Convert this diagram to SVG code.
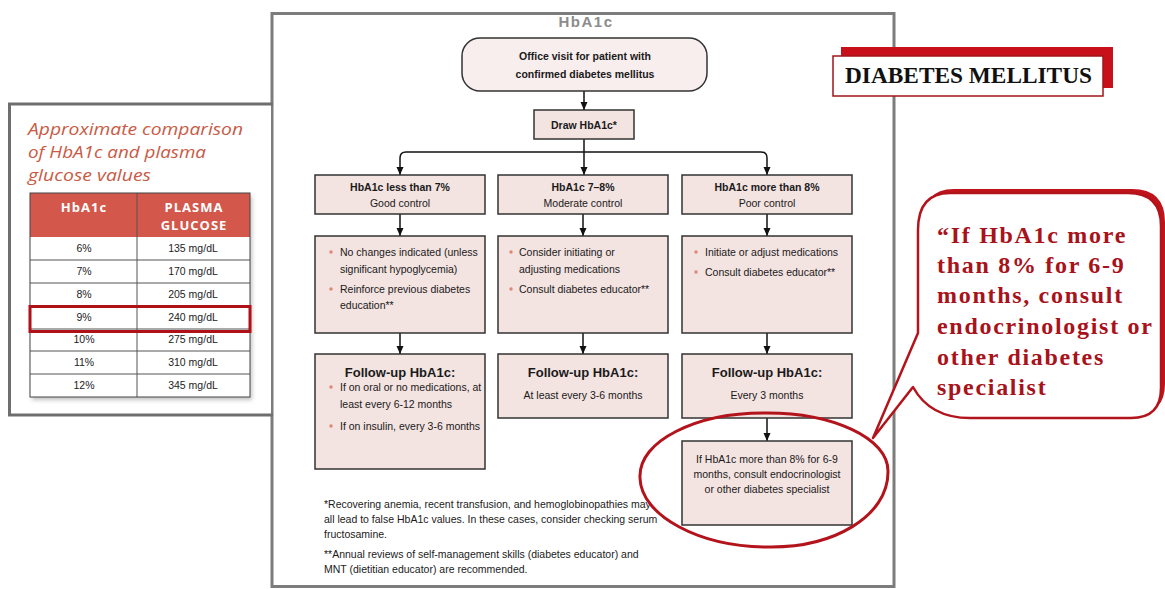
<svg xmlns="http://www.w3.org/2000/svg" width="1165" height="589" viewBox="0 0 1165 589">
  <defs>
    <marker id="ah" viewBox="0 0 8 8" refX="8" refY="4" markerWidth="8" markerHeight="8" markerUnits="userSpaceOnUse" orient="auto">
      <path d="M0,0.5 L8,4 L0,7.5 Z" fill="#111"/>
    </marker>
    <filter id="soft" x="-10%" y="-10%" width="120%" height="130%">
      <feGaussianBlur stdDeviation="2"/>
    </filter>
  </defs>
  <style>
    .frame{fill:#fff;stroke:#7c7c7c;stroke-width:3}
    .box{fill:#f3e3e1;stroke:#333;stroke-width:1.5}
    .t{font-family:"Liberation Sans",Arial,sans-serif;font-size:10.5px;fill:#1a1a1a}
    .b{font-weight:bold}
    .c{text-anchor:middle}
    .fu{font-size:13px;font-weight:bold}
    .dot{fill:#e08676}
    .conn{fill:none;stroke:#111;stroke-width:1.5}
    .ttl{font-family:"Open Sans",sans-serif;font-style:italic;font-size:16.5px;fill:#c95a44}
    .th{font-family:"Open Sans",sans-serif;font-weight:bold;font-size:13px;fill:#fff;letter-spacing:1px;text-anchor:middle}
    .td{font-family:"Liberation Sans",Arial,sans-serif;font-size:10.5px;fill:#222;text-anchor:middle}
    .grid{stroke:#555;stroke-width:1}
    .red{fill:none;stroke:#b3141c;stroke-width:3}
    .bub{font-family:"Liberation Serif","Times New Roman",serif;font-weight:bold;font-size:24px;fill:#a8121a;letter-spacing:1.7px}
  </style>

  <rect width="1165" height="589" fill="#fff"/>

  <!-- flowchart page -->
  <g id="page">
    <rect class="frame" x="272" y="13.5" width="622" height="573"/>
    <text x="586" y="27" font-family="Liberation Sans,Arial,sans-serif" font-weight="bold" font-size="15" fill="#8c8c8c" letter-spacing="1.5" text-anchor="middle">HbA1c</text>
  </g>

  <!-- comparison table panel -->
  <g id="comparison-panel">
    <rect x="9" y="104" width="262" height="311" fill="#fff"/>
    <path d="M273,104 H9.5 V415 H273" fill="none" stroke="#6e6e6e" stroke-width="3"/>
    <text class="ttl" x="28" y="135" textLength="215" lengthAdjust="spacingAndGlyphs">Approximate comparison</text>
    <text class="ttl" x="28" y="158" textLength="178" lengthAdjust="spacingAndGlyphs">of HbA1c and plasma</text>
    <text class="ttl" x="28" y="181" textLength="123" lengthAdjust="spacingAndGlyphs">glucose values</text>
    <rect x="32" y="196" width="220" height="204" fill="#999" opacity="0.6" filter="url(#soft)"/>
    <rect x="30" y="193" width="220" height="44" fill="#d3574b"/>
    <rect x="30" y="237" width="220" height="160" fill="#fff"/>
    <g class="grid">
      <line x1="30" y1="260" x2="250" y2="260"/>
      <line x1="30" y1="283" x2="250" y2="283"/>
      <line x1="30" y1="306" x2="250" y2="306"/>
      <line x1="30" y1="329" x2="250" y2="329"/>
      <line x1="30" y1="351" x2="250" y2="351"/>
      <line x1="30" y1="374" x2="250" y2="374"/>
      <line x1="137" y1="193" x2="137" y2="397"/>
    </g>
    <rect x="30" y="193" width="220" height="204" fill="none" stroke="#444" stroke-width="1"/>
    <text class="th" x="84" y="212">HbA1c</text>
    <text class="th" x="194" y="212">PLASMA</text>
    <text class="th" x="194" y="230">GLUCOSE</text>
    <text class="td" x="84" y="252">6%</text><text class="td" x="193" y="252">135 mg/dL</text>
    <text class="td" x="84" y="275">7%</text><text class="td" x="193" y="275">170 mg/dL</text>
    <text class="td" x="84" y="298">8%</text><text class="td" x="193" y="298">205 mg/dL</text>
    <text class="td" x="84" y="321">9%</text><text class="td" x="193" y="321">240 mg/dL</text>
    <text class="td" x="84" y="343">10%</text><text class="td" x="193" y="343">275 mg/dL</text>
    <text class="td" x="84" y="366">11%</text><text class="td" x="193" y="366">310 mg/dL</text>
    <text class="td" x="84" y="389">12%</text><text class="td" x="193" y="389">345 mg/dL</text>
    <rect x="30" y="306.5" width="220" height="25" fill="none" stroke="#b01018" stroke-width="3"/>
  </g>

  <!-- connectors -->
  <g id="connectors">
    <path class="conn" d="M584,91 V110" marker-end="url(#ah)"/>
    <path class="conn" d="M584,139 V175" marker-end="url(#ah)"/>
    <path class="conn" d="M584,152 H406 Q400,152 400,158 V175" marker-end="url(#ah)"/>
    <path class="conn" d="M584,152 H761 Q767,152 767,158 V175" marker-end="url(#ah)"/>
    <path class="conn" d="M400,214 V236" marker-end="url(#ah)"/>
    <path class="conn" d="M583,214 V236" marker-end="url(#ah)"/>
    <path class="conn" d="M767,214 V236" marker-end="url(#ah)"/>
    <path class="conn" d="M400,333 V354" marker-end="url(#ah)"/>
    <path class="conn" d="M583,333 V354" marker-end="url(#ah)"/>
    <path class="conn" d="M767,333 V354" marker-end="url(#ah)"/>
    <path class="conn" d="M767,418 V441" marker-end="url(#ah)"/>
  </g>

  <g id="office-visit">
    <rect x="462" y="38" width="245" height="53" rx="18" fill="#f8eeed" stroke="#333" stroke-width="1.5"/>
    <text class="t b c" x="585" y="60" font-size="13.5">Office visit for patient with</text>
    <text class="t b c" x="585" y="78" font-size="13.5">confirmed diabetes mellitus</text>
  </g>

  <g id="draw-hba1c">
    <rect class="box" x="534" y="110" width="100" height="29"/>
    <text class="t b c" x="584" y="129" font-size="12.5">Draw HbA1c*</text>
  </g>

  <g id="good-control">
    <rect class="box" x="315" y="175" width="170" height="39"/>
    <text class="t b c" x="400" y="191" font-size="11">HbA1c less than 7%</text>
    <text class="t c" x="400" y="207">Good control</text>
  </g>

  <g id="moderate-control">
    <rect class="box" x="498" y="175" width="170" height="39"/>
    <text class="t b c" x="583" y="191" font-size="11">HbA1c 7–8%</text>
    <text class="t c" x="583" y="207">Moderate control</text>
  </g>

  <g id="poor-control">
    <rect class="box" x="682" y="175" width="170" height="39"/>
    <text class="t b c" x="767" y="191" font-size="11">HbA1c more than 8%</text>
    <text class="t c" x="767" y="207">Poor control</text>
  </g>

  <g id="good-actions">
    <rect class="box" x="315" y="236" width="170" height="97"/>
    <circle class="dot" cx="331" cy="252" r="1.7"/>
    <text class="t" x="340" y="256">No changes indicated (unless</text>
    <text class="t" x="340" y="273">significant hypoglycemia)</text>
    <circle class="dot" cx="331" cy="289" r="1.7"/>
    <text class="t" x="340" y="293">Reinforce previous diabetes</text>
    <text class="t" x="340" y="309">education**</text>
  </g>

  <g id="moderate-actions">
    <rect class="box" x="498" y="236" width="170" height="97"/>
    <circle class="dot" cx="511" cy="252" r="1.7"/>
    <text class="t" x="519" y="256">Consider initiating or</text>
    <text class="t" x="519" y="273">adjusting medications</text>
    <circle class="dot" cx="511" cy="289" r="1.7"/>
    <text class="t" x="519" y="293">Consult diabetes educator**</text>
  </g>

  <g id="poor-actions">
    <rect class="box" x="682" y="236" width="170" height="97"/>
    <circle class="dot" cx="696" cy="252" r="1.7"/>
    <text class="t" x="705" y="256">Initiate or adjust medications</text>
    <circle class="dot" cx="696" cy="272" r="1.7"/>
    <text class="t" x="705" y="276">Consult diabetes educator**</text>
  </g>

  <g id="good-followup">
    <rect class="box" x="315" y="354" width="170" height="115"/>
    <text class="t fu c" x="400" y="377">Follow-up HbA1c:</text>
    <circle class="dot" cx="331" cy="387" r="1.7"/>
    <text class="t" x="340" y="391">If on oral or no medications, at</text>
    <text class="t" x="340" y="408">least every 6-12 months</text>
    <circle class="dot" cx="331" cy="426" r="1.7"/>
    <text class="t" x="340" y="430">If on insulin, every 3-6 months</text>
  </g>

  <g id="moderate-followup">
    <rect class="box" x="498" y="354" width="170" height="64"/>
    <text class="t fu c" x="583" y="377">Follow-up HbA1c:</text>
    <text class="t c" x="583" y="399">At least every 3-6 months</text>
  </g>

  <g id="poor-followup">
    <rect class="box" x="682" y="354" width="170" height="64"/>
    <text class="t fu c" x="767" y="377">Follow-up HbA1c:</text>
    <text class="t c" x="767" y="399">Every 3 months</text>
  </g>

  <g id="specialist-referral">
    <rect class="box" x="682" y="441" width="170" height="84"/>
    <text class="t c" x="767" y="463">If HbA1c more than 8% for 6-9</text>
    <text class="t c" x="767" y="478">months, consult endocrinologist</text>
    <text class="t c" x="767" y="493">or other diabetes specialist</text>
  </g>

  <g id="footnotes">
    <text class="t" x="324" y="508" font-size="10">*Recovering anemia, recent transfusion, and hemoglobinopathies may</text>
    <text class="t" x="324" y="523" font-size="10">all lead to false HbA1c values. In these cases, consider checking serum</text>
    <text class="t" x="324" y="538" font-size="10">fructosamine.</text>
    <text class="t" x="324" y="558" font-size="10">**Annual reviews of self-management skills (diabetes educator) and</text>
    <text class="t" x="324" y="573" font-size="10">MNT (dietitian educator) are recommended.</text>
  </g>

  <!-- hand-drawn ring round the referral step -->
  <g id="highlight-ring">
    <path class="red" d="M640,478 C638,440 698,413 763,413 C832,412 889,438 888,472 C888,516 834,548 768,547 C700,547 641,516 640,478 Z"/>
  </g>

  <g id="title-label">
    <rect x="841" y="47" width="272" height="41" fill="#c8101a"/>
    <rect x="833" y="56" width="270" height="40" fill="#fff" stroke="#a01418" stroke-width="1.5"/>
    <text x="845" y="83" font-family="Liberation Serif,Times New Roman,serif" font-weight="bold" font-size="24" fill="#111" textLength="247" lengthAdjust="spacingAndGlyphs">DIABETES MELLITUS</text>
  </g>

  <g id="callout">
    <path d="M954,189 H1132 Q1165,189 1165,222 V384 Q1165,414 1135,414 H974 Q934,414 917,383 L877,434 L922,329 V226 Q922,189 954,189 Z" fill="#c0141c"/>
    <path d="M950,193 H1128 Q1161,193 1161,226 V388 Q1161,418 1131,418 H970 Q930,418 913,387 L873,438 L918,333 V230 Q918,193 950,193 Z" fill="#fff" stroke="#b3141c" stroke-width="2.5" stroke-linejoin="round"/>
    <text class="bub" x="937" y="243">“If HbA1c more</text>
    <text class="bub" x="937" y="273">than 8% for 6-9</text>
    <text class="bub" x="937" y="303">months, consult</text>
    <text class="bub" x="937" y="334">endocrinologist or</text>
    <text class="bub" x="937" y="365">other diabetes</text>
    <text class="bub" x="937" y="395">specialist</text>
  </g>
</svg>
